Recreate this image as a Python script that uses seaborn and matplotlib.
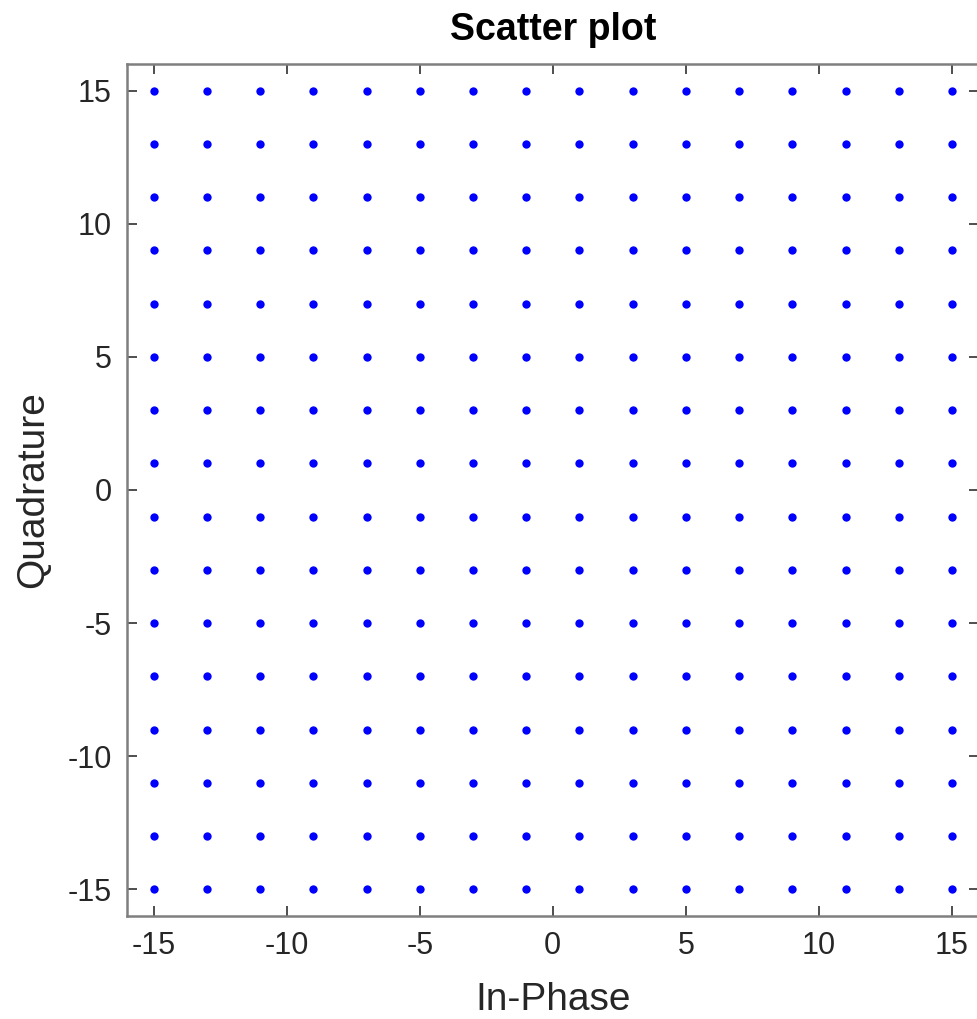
import numpy
import pandas
import seaborn as sns
import matplotlib
matplotlib.use('Agg')
import matplotlib.pyplot as plt


# 256-QAM constellation levels on each axis.
in_phase_levels = [-15, -13, -11, -9, -7, -5, -3, -1, 1, 3, 5, 7, 9, 11, 13, 15]
quadrature_levels = [-15, -13, -11, -9, -7, -5, -3, -1, 1, 3, 5, 7, 9, 11, 13, 15]
tick_values = [-15, -10, -5, 0, 5, 10, 15]


def plot_constellation():

    # Build every (I, Q) pair of the grid.
    records = [(i, q) for q in quadrature_levels for i in in_phase_levels]
    df = pandas.DataFrame(records, columns = ['In-Phase', 'Quadrature'])

    sns.set_theme(style = 'white')
    plt.rcParams['font.family'] = ['Liberation Sans', 'DejaVu Sans']
    plt.rcParams['axes.unicode_minus'] = False

    fig = plt.figure(figsize = (9.77, 10.19), dpi = 100)
    ax = fig.add_axes([0.130, 0.1011, 0.8716, 0.8361])

    sns.scatterplot(
        data = df,
        x = 'In-Phase',
        y = 'Quadrature',
        color = '#0000ff',
        s = 36,
        linewidth = 0,
        ax = ax
    )

    ax.set_xlim(-16, 16)
    ax.set_ylim(-16, 16)
    ax.set_xticks(tick_values)
    ax.set_yticks(tick_values)
    ax.tick_params(
        axis = 'both', which = 'both', direction = 'in',
        top = True, right = True, bottom = True, left = True,
        length = 7, width = 1.2,
        color = '#303030', labelsize = 22, labelcolor = '#262626', pad = 11
    )

    for spine in ax.spines.values():
        spine.set_visible(True)
        spine.set_color('#7f7f7f')
        spine.set_linewidth(1.8)

    ax.set_title('Scatter plot', fontsize = 27, fontweight = 'bold', color = 'black', pad = 17)
    ax.set_xlabel('In-Phase', fontsize = 28, color = '#262626', labelpad = 15)
    ax.set_ylabel('Quadrature', fontsize = 28, color = '#262626', labelpad = 12)

    fig.savefig('out.png', dpi = 100)


plot_constellation()
